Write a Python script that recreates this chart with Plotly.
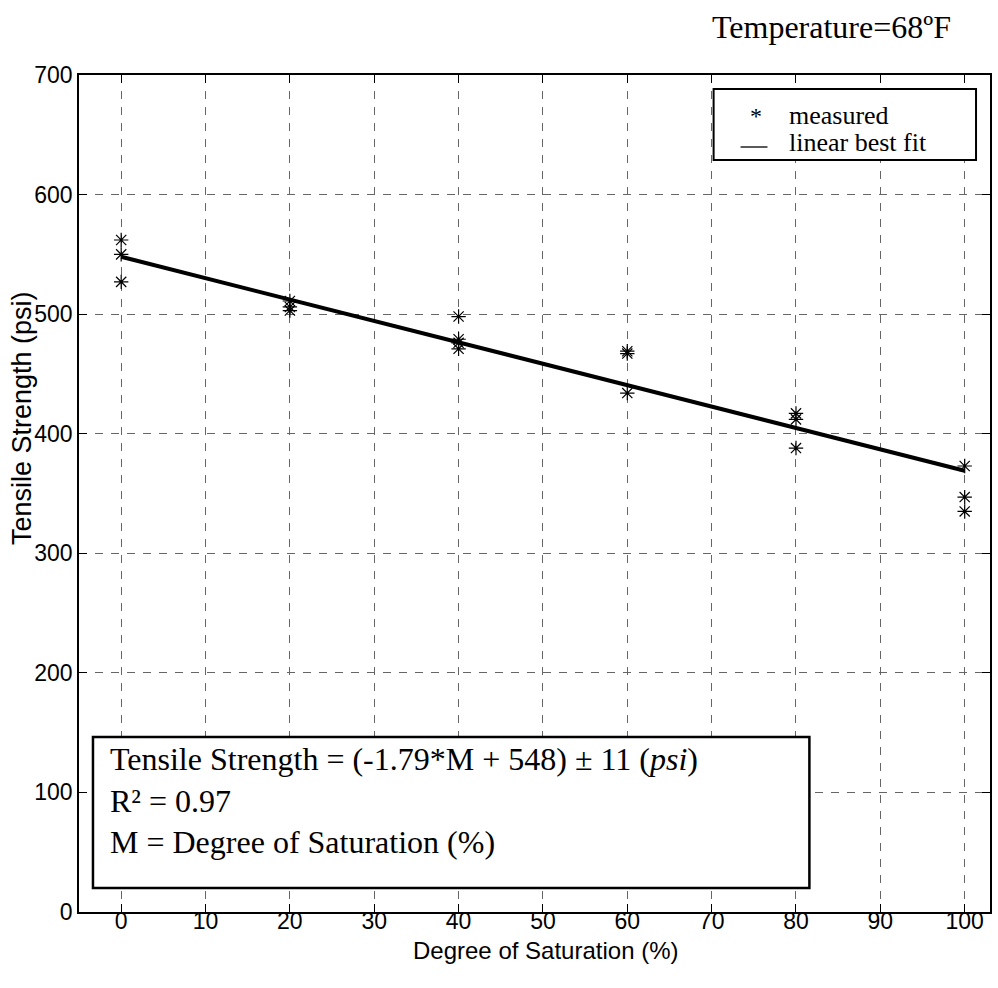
import plotly.graph_objects as go

# ---- data ----
sat_x = [0, 0, 0, 20, 20, 20, 40, 40, 40, 40, 60, 60, 60, 80, 80, 80, 100, 100, 100]
strength_y = [562, 550, 527, 511, 506, 503, 498, 479, 476, 471, 469, 467, 434, 417, 412, 388, 373, 347, 335]
fit_slope = -1.79
fit_intercept = 548
fit_x = [0, 100]
fit_y = [fit_slope * v + fit_intercept for v in fit_x]
x_ticks = [0, 10, 20, 30, 40, 50, 60, 70, 80, 90, 100]
y_ticks = [0, 100, 200, 300, 400, 500, 600, 700]

W, H = 998, 988
ML, MR, MT, MB = 79, 6, 75, 76
PW, PH = W - ML - MR, H - MT - MB

def px(xp):
    return (xp - ML) / PW

def py(yp):
    return (H - MB - yp) / PH

fig = go.Figure()
fig.add_trace(go.Scatter(x=fit_x, y=fit_y, mode="lines",
                         line=dict(color="black", width=4), showlegend=False))
fig.add_trace(go.Scatter(x=sat_x, y=strength_y, mode="markers",
                         marker=dict(symbol="asterisk-open", size=12, color="black",
                                     line=dict(color="black", width=1.2)),
                         showlegend=False))

sans = "Liberation Sans Narrow, Arial Narrow, Liberation Sans, Arial"
tickfont = dict(family=sans, size=23, color="black")
axis_common = dict(showline=True, linecolor="black", linewidth=1.5, mirror="ticks",
                   ticks="inside", ticklen=8, tickcolor="black", tickwidth=1,
                   showgrid=True, gridcolor="#666666", gridwidth=1, griddash="8px,8px",
                   zeroline=False, tickfont=tickfont)

fig.update_xaxes(range=[-5, 103], tickvals=x_ticks, ticklabelstandoff=-12, **axis_common)
fig.update_yaxes(range=[0, 700], tickvals=y_ticks, **axis_common)

serif = "Liberation Serif, Times New Roman, serif"
shapes = [
    # legend box
    dict(type="rect", xref="paper", yref="paper", x0=px(715), x1=px(978), y0=py(160), y1=py(89),
         line=dict(color="black", width=2), fillcolor="white", layer="above"),
    # legend line sample
    dict(type="line", xref="paper", yref="paper", x0=px(742), x1=px(769), y0=py(147), y1=py(147),
         line=dict(color="black", width=1.3), layer="above"),
    # equation box
    dict(type="rect", xref="paper", yref="paper", x0=px(93), x1=px(811), y0=py(888), y1=py(737),
         line=dict(color="black", width=2.5), fillcolor="white", layer="above"),
]
annotations = [
    dict(text="Temperature=68ºF", xref="paper", yref="paper", x=px(711), y=py(27),
         xanchor="left", yanchor="middle", showarrow=False,
         font=dict(family=serif, size=32, color="black")),
    dict(text="*", xref="paper", yref="paper", x=px(757), y=py(116),
         xanchor="center", yanchor="middle", showarrow=False,
         font=dict(family=serif, size=24, color="black")),
    dict(text="measured", xref="paper", yref="paper", x=px(789), y=py(116),
         xanchor="left", yanchor="middle", showarrow=False,
         font=dict(family=serif, size=26, color="black")),
    dict(text="linear best fit", xref="paper", yref="paper", x=px(789), y=py(143),
         xanchor="left", yanchor="middle", showarrow=False,
         font=dict(family=serif, size=26, color="black")),
    dict(text="Tensile Strength = (-1.79*M + 548) ± 11 (<i>psi</i>)<br>R² = 0.97<br>M = Degree of Saturation (%)",
         xref="paper", yref="paper", x=px(108), y=py(800),
         xanchor="left", yanchor="middle", align="left", showarrow=False,
         font=dict(family=serif, size=32, color="black")),
    # axis titles
    dict(text="Degree of Saturation (%)", xref="paper", yref="paper", x=px(547), y=py(950),
         xanchor="center", yanchor="middle", showarrow=False,
         font=dict(family=sans, size=24, color="black")),
    dict(text="Tensile Strength (psi)", xref="paper", yref="paper", x=px(22), y=py(418),
         xanchor="center", yanchor="middle", textangle=-90, showarrow=False,
         font=dict(family="Liberation Sans, Arial", size=27, color="black")),
]

fig.update_layout(width=W, height=H, margin=dict(l=ML, r=MR, t=MT, b=MB),
                  paper_bgcolor="white", plot_bgcolor="white",
                  shapes=shapes, annotations=annotations, showlegend=False)

fig.write_html("out.html")
